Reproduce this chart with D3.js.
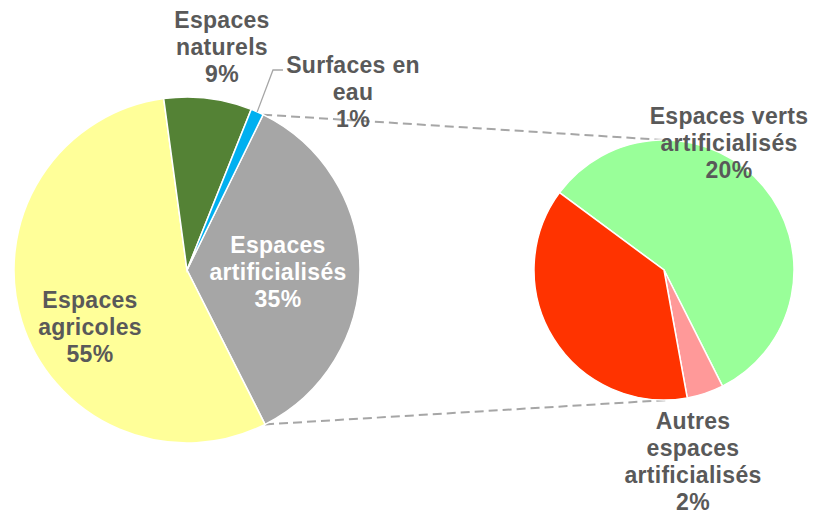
<!DOCTYPE html>
<html>
<head>
<meta charset="utf-8">
<script src="https://cdn.jsdelivr.net/npm/d3@7"></script>
<style>
  body { margin: 0; background: #fff; }
  text { font-family: "Liberation Sans", Arial, sans-serif; font-weight: bold; font-size: 23px; letter-spacing: 0.3px; }
</style>
</head>
<body>
<div id="chart"></div>
<script>
// main pie (share of total area, %)
var mainCats = ["Espaces artificialisés", "Espaces agricoles", "Espaces naturels", "Surfaces en eau"];
var mainValues = [35.3, 55.3, 8.2, 1.2];
var mainLabels = ["35%", "55%", "9%", "1%"];
var mainColors = ["#a6a6a6", "#ffff99", "#548235", "#00b0f0"];

// second pie: breakdown of "Espaces artificialisés"
var subCats = ["Espaces verts artificialisés", "Autres espaces artificialisés", "Sols artificialisés"];
var subValues = [20.1, 1.6, 13.3];
var subLabels = ["20%", "2%", ""];
var subColors = ["#99ff99", "#ff9999", "#ff3300"];

var W = 817, H = 515;
var svg = d3.select("#chart").append("svg")
  .attr("width", W)
  .attr("height", H);

var main = { cx: 187, cy: 270, r: 173 };
var sub = { cx: 664, cy: 270, r: 130 };

var deg = Math.PI / 180;
var mainStart = 26.1 * deg;
var subStart = -53.5 * deg;

var pieMain = d3.pie().sort(null).value(function (d) { return d; })
  .startAngle(mainStart).endAngle(mainStart + 2 * Math.PI);
var pieSub = d3.pie().sort(null).value(function (d) { return d; })
  .startAngle(subStart).endAngle(subStart + 2 * Math.PI);

var arcMain = d3.arc().innerRadius(0).outerRadius(main.r);
var arcSub = d3.arc().innerRadius(0).outerRadius(sub.r);

var mainArcs = pieMain(mainValues);
var subArcs = pieSub(subValues);

// dashed connectors from the artificialised slice to the second pie
var a0 = mainArcs[0].startAngle, a1 = mainArcs[0].endAngle;
function pt(c, r, a) { return [c.cx + r * Math.sin(a), c.cy - r * Math.cos(a)]; }
var lines = [
  [pt(main, main.r, a0), [sub.cx, sub.cy - sub.r]],
  [pt(main, main.r, a1), [sub.cx + 4, sub.cy + sub.r]]
];
svg.selectAll(".conn")
  .data(lines)
  .enter().append("line")
  .attr("class", "conn")
  .attr("x1", function (d) { return d[0][0]; })
  .attr("y1", function (d) { return d[0][1]; })
  .attr("x2", function (d) { return d[1][0]; })
  .attr("y2", function (d) { return d[1][1]; })
  .attr("stroke", "#a6a6a6")
  .attr("stroke-width", 2)
  .attr("stroke-dasharray", "9,5");

var gMain = svg.append("g").attr("transform", "translate(" + main.cx + "," + main.cy + ")");
gMain.selectAll("path")
  .data(mainArcs)
  .enter().append("path")
  .attr("d", arcMain)
  .attr("fill", function (d, i) { return mainColors[i]; })
  .attr("stroke", "#fff")
  .attr("stroke-width", 1.5);

var gSub = svg.append("g").attr("transform", "translate(" + sub.cx + "," + sub.cy + ")");
gSub.selectAll("path")
  .data(subArcs)
  .enter().append("path")
  .attr("d", arcSub)
  .attr("fill", function (d, i) { return subColors[i]; })
  .attr("stroke", "#fff")
  .attr("stroke-width", 1.5);

// leader line for "Surfaces en eau"
var eauMid = (mainArcs[3].startAngle + mainArcs[3].endAngle) / 2;
var eauPt = pt(main, main.r, eauMid);
svg.append("polyline")
  .attr("points", [eauPt, [273, 70], [283, 70]].map(function (p) { return p.join(","); }).join(" "))
  .attr("fill", "none")
  .attr("stroke", "#a6a6a6")
  .attr("stroke-width", 1.3);

// labels: lines, centre x, y of first line, colour
var labels = [
  { lines: ["Espaces", "artificialisés", mainLabels[0]], x: 278, y: 245, color: "#fff" },
  { lines: ["Espaces", "agricoles", mainLabels[1]], x: 90, y: 300, color: "#595959" },
  { lines: ["Espaces", "naturels", mainLabels[2]], x: 222, y: 20, color: "#595959" },
  { lines: ["Surfaces en", "eau", mainLabels[3]], x: 353, y: 65, color: "#595959" },
  { lines: ["Espaces verts", "artificialisés", subLabels[0]], x: 729, y: 116, color: "#595959" },
  { lines: ["Autres", "espaces", "artificialisés", subLabels[1]], x: 693, y: 421, color: "#595959" }
];

var lineH = 27;
labels.forEach(function (l) {
  var t = svg.append("text")
    .attr("text-anchor", "middle")
    .attr("fill", l.color);
  l.lines.forEach(function (s, i) {
    t.append("tspan")
      .attr("x", l.x)
      .attr("y", l.y + i * lineH)
      .attr("dy", "0.35em")
      .text(s);
  });
});
</script>
</body>
</html>
